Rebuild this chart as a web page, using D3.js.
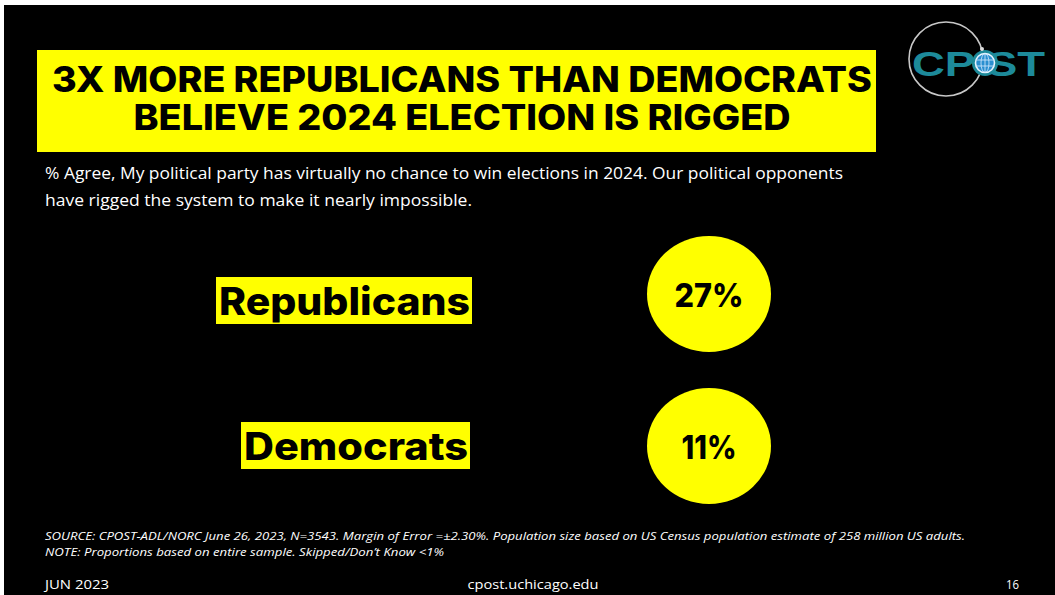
<!DOCTYPE html>
<html><head><meta charset="utf-8">
<script src="https://cdn.jsdelivr.net/npm/d3@7"></script>
<style>html,body{margin:0;padding:0;background:#fff;overflow:hidden}</style>
</head><body>
<svg id="c" width="1055" height="595"></svg>
<script>
const categories = ["Republicans", "Democrats"];
const values = [27, 11];
const titleLines = ["3X MORE REPUBLICANS THAN DEMOCRATS", "BELIEVE 2024 ELECTION IS RIGGED"];
const subtitleLines = ["% Agree, My political party has virtually no chance to win elections in 2024. Our political opponents",
  "have rigged the system to make it nearly impossible."];
const footnotes = ["SOURCE: CPOST-ADL/NORC June 26, 2023, N=3543. Margin of Error =±2.30%. Population size based on US Census population estimate of 258 million US adults.",
  "NOTE: Proportions based on entire sample. Skipped/Don\u2019t Know <1%"];

const svg = d3.select("#c");
const YEL = "#ffff00";
svg.append("rect").attr("x", 4).attr("y", 5).attr("width", 1051).attr("height", 590).attr("fill", "#000");

// title box
svg.append("rect").attr("x", 37).attr("y", 50).attr("width", 839).attr("height", 102).attr("fill", YEL);
const tl = [{t: titleLines[0], x: 462, y: 92, w: 820}, {t: titleLines[1], x: 462, y: 130, w: 657}];
svg.selectAll("text.title").data(tl).join("text").attr("class", "title")
  .attr("x", d => d.x).attr("y", d => d.y).attr("text-anchor", "middle")
  .attr("textLength", d => d.w).attr("lengthAdjust", "spacingAndGlyphs")
  .style("font-family", "Inter, 'DejaVu Sans', sans-serif").style("font-weight", 800)
  .style("font-size", "35px").attr("fill", "#000").text(d => d.t);

// subtitle
svg.selectAll("text.sub").data(subtitleLines).join("text").attr("class", "sub")
  .attr("x", 45).attr("y", (d, i) => 179 + i * 27)
  .attr("textLength", (d, i) => i === 0 ? 798 : 427).attr("lengthAdjust", "spacingAndGlyphs")
  .style("font-family", "'Open Sans', Lato, sans-serif").style("font-size", "17px")
  .attr("fill", "#fff").text(d => d);

// logo
const logo = svg.append("g");
logo.append("circle").attr("cx", 946).attr("cy", 59).attr("r", 37).attr("fill", "none")
  .attr("stroke", "#c8c8c8").attr("stroke-width", 1.6);
logo.append("text").attr("x", 912).attr("y", 76).attr("textLength", 133).attr("lengthAdjust", "spacingAndGlyphs")
  .style("font-family", "'Liberation Sans', Arial, sans-serif").style("font-weight", 700).style("font-size", "35px")
  .attr("fill", "#1d8a9a").text("CP ST");
logo.append("circle").attr("cx", 985).attr("cy", 63).attr("r", 13).attr("fill", "#1d8a9a");
logo.append("circle").attr("cx", 985).attr("cy", 63).attr("r", 9.5).attr("fill", "#2a8fd0").attr("stroke", "#e8f4ff").attr("stroke-width", 1.6);
const gl = logo.append("g").attr("stroke", "#d8ecff").attr("stroke-width", 0.8).attr("fill", "none");
gl.append("ellipse").attr("cx", 985).attr("cy", 63).attr("rx", 4).attr("ry", 9.5);
gl.append("line").attr("x1", 976).attr("x2", 994).attr("y1", 60).attr("y2", 60);
gl.append("line").attr("x1", 976).attr("x2", 994).attr("y1", 66).attr("y2", 66);
gl.append("line").attr("x1", 985).attr("x2", 985).attr("y1", 54).attr("y2", 72);
logo.append("circle").attr("cx", 982).attr("cy", 49).attr("r", 2).attr("fill", "#ddd");

// chart
const y = d3.scaleBand().domain(categories).range([218, 522]).padding(0.0);
const cx = 709;
const rows = categories.map((c, i) => ({c, v: values[i]}));
const g = svg.append("g");
const row = g.selectAll("g.row").data(rows).join("g").attr("class", "row")
  .attr("transform", d => `translate(0,${y(d.c) + y.bandwidth() / 2})`);
row.append("ellipse").attr("cx", cx).attr("cy", 0).attr("rx", 62).attr("ry", 58).attr("fill", YEL);
row.append("text").attr("x", cx).attr("y", 13).attr("text-anchor", "middle")
  .style("font-family", "Inter, 'DejaVu Sans', sans-serif").style("font-weight", 800).style("font-size", "33px")
  .attr("textLength", d => d.v === 27 ? 69 : 55).attr("lengthAdjust", "spacingAndGlyphs")
  .attr("fill", "#000").text(d => d.v + "%");
// label boxes
row.each(function(d) {
  const sel = d3.select(this);
  const right = d.c === "Republicans" ? 472 : 470;
  const w = d.c === "Republicans" ? 256 : 229;
  const dy = d.c === "Republicans" ? 7 : 0;
  sel.append("rect").attr("x", right - w).attr("y", -24 + dy).attr("width", w).attr("height", 47).attr("fill", YEL);
  sel.append("text").attr("x", right - 2).attr("y", 14 + dy).attr("text-anchor", "end")
    .attr("textLength", w - 5).attr("lengthAdjust", "spacingAndGlyphs")
    .style("font-family", "Inter, 'DejaVu Sans', sans-serif").style("font-weight", 800).style("font-size", "38px")
    .attr("fill", "#000").text(d.c);
});

// footnotes
svg.selectAll("text.foot").data(footnotes).join("text").attr("class", "foot")
  .attr("x", 45).attr("y", (d, i) => 540 + i * 16)
  .attr("textLength", (d, i) => i === 0 ? 920 : 399).attr("lengthAdjust", "spacingAndGlyphs")
  .style("font-family", "'Open Sans', sans-serif").style("font-style", "italic").style("font-size", "11px")
  .attr("fill", "#fff").text(d => d);

const bot = [{t: "JUN 2023", x: 45, a: "start", w: 64}, {t: "cpost.uchicago.edu", x: 533, a: "middle", w: 131}, {t: "16", x: 1019, a: "end", w: 13}];
svg.selectAll("text.bot").data(bot).join("text").attr("class", "bot")
  .attr("x", d => d.x).attr("y", 589).attr("text-anchor", d => d.a)
  .attr("textLength", d => d.w).attr("lengthAdjust", "spacingAndGlyphs")
  .style("font-family", "'Open Sans', sans-serif").style("font-size", "13px")
  .attr("fill", "#fff").text(d => d.t);
</script>
</body></html>
